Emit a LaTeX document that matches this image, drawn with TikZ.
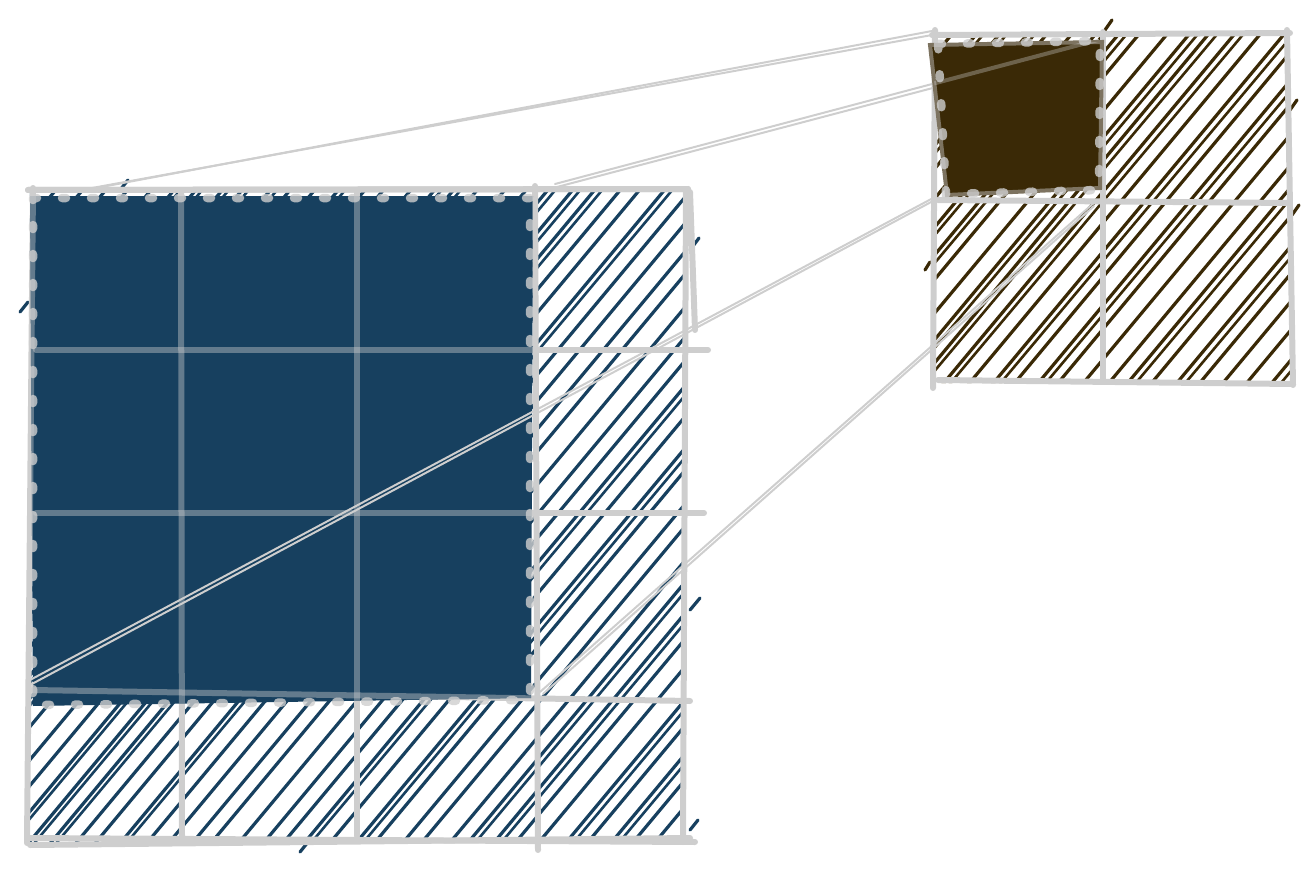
\documentclass[tikz,border=0pt]{standalone}
\definecolor{hblue}{RGB}{23,64,95}
\definecolor{hbrown}{RGB}{58,41,6}
\definecolor{gridgray}{RGB}{206,206,206}
\tikzset{
  gridline/.style={draw=gridgray, line width=6pt, line cap=round},
  innergrid/.style={draw=gridgray, opacity=0.42, line width=6pt, line cap=round},
  hatchB/.style={draw=hblue, line width=3.2pt, line cap=round},
  hatchR/.style={draw=hbrown, line width=3.2pt, line cap=round},
  dotsline/.style={draw=gridgray, opacity=0.8, line width=8.5pt, line cap=round, dash pattern=on 4pt off 25pt},
  link/.style={draw=gridgray, line width=2pt, line cap=round},
}
\begin{document}
\begin{tikzpicture}[x=1pt,y=-1pt]
\useasboundingbox (0,0) rectangle (1315,880);
\pgfmathsetseed{7}
% ---------- left grid: hatching ----------
\begin{scope}
  \clip (30,189) -- (688,189) -- (685,842) -- (27,842) -- cycle;
  \foreach \c in {200,228,...,1740} {
    \pgfmathsetmacro\d{\c+8*rnd}
    \draw[hatchB] (0,\d) -- (1400,\d-1680);
    \pgfmathsetmacro\r{rnd}
    \ifdim\r pt<0.4pt \draw[hatchB,line width=2.6pt] (0,\d+7) -- (1400,\d-1668); \fi
  }
\end{scope}
% a few strokes poking out of the border
\draw[hatchB] (20,312) -- (28,302);
\draw[hatchB] (690,250) -- (699,238);
\draw[hatchB] (690,610) -- (700,598);
\draw[hatchB] (300,852) -- (308,842);
\draw[hatchB] (120,190) -- (128,180);
\draw[hatchB] (690,830) -- (698,820);
% ---------- left grid lines ----------
\newcommand{\leftgrid}[1]{%
  \draw[#1] (33,188) -- (27,843);
  \draw[#1] (181,190) -- (182,836);
  \draw[#1] (357,190) -- (357,836);
  \draw[#1] (535,186) -- (538,850);
  \draw[#1] (686,190) -- (683,842);
  \draw[#1] (28,190) -- (688,189);
  \draw[#1] (36,350) -- (708,350);
  \draw[#1] (36,513) -- (704,513);
  \draw[#1] (33,690) -- (690,701);
  \draw[#1] (28,838) -- (695,842);
}
\leftgrid{gridline}
\draw[gridline] (690,192) -- (695,330);
\draw[gridline] (30,845) -- (690,838);
% ---------- left filled region ----------
\path[fill=hblue] (30,196) -- (533,196) -- (531,698) -- (33,706) -- cycle;
\begin{scope}
  \clip (30,196) -- (533,196) -- (531,698) -- (33,706) -- cycle;
  \leftgrid{innergrid}
\end{scope}
\draw[gridline] (28,190) -- (688,189);
\draw[dotsline] (33,198) -- (530,198) -- (530,700) -- (33,705) -- cycle;
% ---------- right grid: hatching ----------
\begin{scope}
  \clip (935,33) -- (1288,33) -- (1292,383) -- (934,383) -- cycle;
  \foreach \c in {160,188,...,1020} {
    \pgfmathsetmacro\d{\c+8*rnd}
    \draw[hatchR] (800,\d) -- (1400,\d-720);
    \pgfmathsetmacro\r{rnd}
    \ifdim\r pt<0.4pt \draw[hatchR,line width=2.6pt] (800,\d+7) -- (1400,\d-708); \fi
  }
\end{scope}
\draw[hatchR] (1290,110) -- (1297,100);
\draw[hatchR] (1292,215) -- (1299,205);
\draw[hatchR] (1105,30) -- (1112,20);
\draw[hatchR] (930,262) -- (925,270);
% ---------- right grid lines ----------
\draw[gridline] (935,30) -- (933,388);
\draw[gridline] (1103,32) -- (1103,380);
\draw[gridline] (1287,30) -- (1293,385);
\draw[gridline] (932,35) -- (1290,33);
\draw[gridline] (938,200) -- (1290,203);
\draw[gridline] (938,380) -- (1292,384);
% ---------- connectors ----------
\coordinate (lTL) at (75,192);
\coordinate (lTR) at (555,184);
\coordinate (lBL) at (30,680);
\coordinate (lBR) at (540,692);
\coordinate (rTL) at (932,31);
\coordinate (rTR) at (1098,40);
\coordinate (rBL) at (935,197);
\coordinate (rBR) at (1096,201);
\draw[link] (lTL) -- (rTL);
\draw[link] ([shift={(6,-2)}]lTL) -- ([shift={(0,4)}]rTL);
\draw[link] (lTR) -- (rTR);
\draw[link] ([shift={(2,3)}]lTR) -- ([shift={(-2,5)}]rTR);
\draw[link] (lBL) -- (rBL);
\draw[link] ([shift={(0,5)}]lBL) -- ([shift={(-2,4)}]rBL);
\draw[link] (lBR) -- (rBR);
\draw[link] ([shift={(3,2)}]lBR) -- ([shift={(-2,5)}]rBR);
% ---------- right filled cell ----------
\path[fill=hbrown, draw=hbrown!55!gridgray, line width=4pt]
  (930,45) -- (1102,42) -- (1100,188) -- (947,195) -- cycle;
\begin{scope}
  \clip (930,45) -- (1102,42) -- (1100,188) -- (947,195) -- cycle;
  \draw[link, opacity=0.35, line width=4pt] (lTR) -- (rTR);
\end{scope}
\draw[dotsline] (938,44) -- (1100,41) -- (1099,190) -- (946,194) -- cycle;
\end{tikzpicture}
\end{document}
